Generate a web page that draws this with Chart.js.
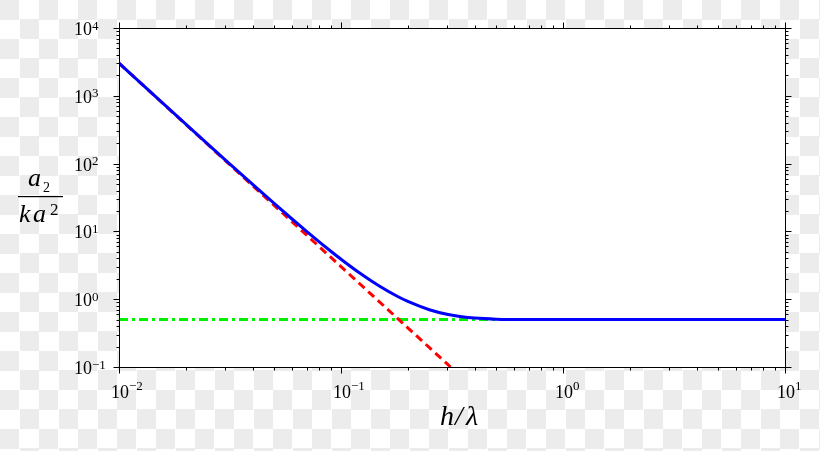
<!DOCTYPE html>
<html><head><meta charset="utf-8">
<script src="https://cdn.jsdelivr.net/npm/chart.js@4.4.1/dist/chart.umd.min.js"></script>
<style>
html,body{margin:0;padding:0;}
body{width:820px;height:451px;overflow:hidden;background-color:#fff;
background-image:conic-gradient(#fff 0 25%, #ececec 0 50%, #fff 0 75%, #ececec 0);
background-size:39px 39px;background-position:0 0;}
canvas{display:block;}
</style></head><body>
<canvas id="c" width="820" height="451"></canvas>
<script>
// Blue curve: a2/(k a^2) versus h/lambda
const hOverLambda = [0.01, 0.015, 0.02, 0.03, 0.04, 0.05, 0.06, 0.07, 0.08, 0.09, 0.1, 0.12, 0.15, 0.18, 0.2, 0.25, 0.3, 0.35, 0.4, 0.5, 0.6, 0.8, 1, 2, 5, 10];
const a2Ratio     = [3032, 901, 382, 114.7, 49.3, 25.8, 15.37, 10.0, 6.96, 5.10, 3.89, 2.50, 1.539, 1.096, 0.927, 0.700, 0.600, 0.551, 0.527, 0.5075, 0.5021, 0.5002, 0.5, 0.5, 0.5, 0.5];
// Red dashed: shallow-water asymptote
const shallowX = [0.01, 0.02, 0.05, 0.1, 0.2, 0.3, 0.3115];
const shallowY = [3024, 378, 24.19, 3.024, 0.378, 0.112, 0.1];
// Green dash-dot: deep-water limit
const deepX = [0.01, 10];
const deepY = [0.5, 0.5];
// Axis ticks
const xMajorTicks = [0.01, 0.1, 1, 10];
const xTickExponents = ['\u22122', '\u22121', '0', '1'];
const yMajorTicks = [0.1, 1, 10, 100, 1000, 10000];
const yTickExponents = ['\u22121', '0', '1', '2', '3', '4'];

const pts = (xs, ys) => xs.map((x, i) => ({x: x, y: ys[i]}));

const SERIF = '"Liberation Serif", "DejaVu Serif", serif';

const decor = {
  id: 'decor',
  beforeDatasetsDraw(chart) {
    const {ctx, chartArea: a} = chart;
    ctx.save();
    ctx.fillStyle = '#ffffff';
    ctx.fillRect(a.left, a.top, a.right - a.left, a.bottom - a.top);
    ctx.restore();
  },
  afterDraw(chart) {
    const {ctx, chartArea: a} = chart;
    const xs = chart.scales.x, ys = chart.scales.y;
    ctx.save();
    ctx.strokeStyle = '#000';
    ctx.lineWidth = 1;
    ctx.strokeRect(Math.round(a.left) + 0.5, Math.round(a.top) + 0.5, Math.round(a.right - a.left), Math.round(a.bottom - a.top));
    const major = 6, minor = 3;
    const line = (x1, y1, x2, y2) => { ctx.beginPath(); ctx.moveTo(x1, y1); ctx.lineTo(x2, y2); ctx.stroke(); };
    const xt = [], yt = [];
    xMajorTicks.forEach((v, i) => {
      xt.push([v, major]);
      if (i < xMajorTicks.length - 1) for (let k = 2; k <= 9; k++) xt.push([v * k, minor]);
    });
    yMajorTicks.forEach((v, i) => {
      yt.push([v, major]);
      if (i < yMajorTicks.length - 1) for (let k = 2; k <= 9; k++) yt.push([v * k, minor]);
    });
    const T = Math.round(a.top) + 0.5, B = Math.round(a.bottom) + 0.5, L = Math.round(a.left) + 0.5, R = Math.round(a.right) + 0.5;
    xt.forEach(([v, len]) => {
      const px = Math.round(xs.getPixelForValue(v)) + 0.5;
      line(px, B, px, B + len);
      line(px, T, px, T - len);
    });
    yt.forEach(([v, len]) => {
      const py = Math.round(ys.getPixelForValue(v)) + 0.5;
      line(L, py, L - len, py);
      line(R, py, R + len, py);
    });
    ctx.fillStyle = '#000';
    ctx.textAlign = 'left';
    ctx.textBaseline = 'alphabetic';
    xMajorTicks.forEach((v, i) => {
      const px = xs.getPixelForValue(v);
      const x0 = px - 8;
      ctx.font = '18px ' + SERIF;
      ctx.fillText('10', x0, 398);
      const w = ctx.measureText('10').width;
      ctx.font = '13px ' + SERIF;
      ctx.fillText(xTickExponents[i], x0 + w, 390);
    });
    yMajorTicks.forEach((v, i) => {
      const py = ys.getPixelForValue(v);
      const x0 = 74;
      ctx.font = '18px ' + SERIF;
      ctx.fillText('10', x0, py + 7);
      const w = ctx.measureText('10').width;
      ctx.font = '13px ' + SERIF;
      ctx.fillText(yTickExponents[i], x0 + w, py + 1.5);
    });
    // x axis title h/lambda
    ctx.font = 'italic 28px ' + SERIF;
    ctx.textAlign = 'left';
    ctx.fillText('h', 440, 425);
    ctx.fillText('/', 455, 425);
    ctx.fillText('\u03BB', 466, 425);
    // y axis title (fraction a_2 / (k a^2))
    ctx.font = 'italic 26px ' + SERIF;
    ctx.fillText('a', 28, 186);
    ctx.font = '14px ' + SERIF;
    ctx.fillText('2', 43, 192);
    ctx.fillRect(18, 196, 45, 1.2);
    ctx.font = 'italic 26px ' + SERIF;
    ctx.fillText('k', 19, 222);
    ctx.fillText('a', 33, 222);
    ctx.font = '17px ' + SERIF;
    ctx.fillText('2', 50, 215);
    ctx.restore();
  }
};

function build() {
  new Chart(document.getElementById('c'), {
    type: 'line',
    data: {
      datasets: [
        {label: 'a2/(k a^2)', data: pts(hOverLambda, a2Ratio), borderColor: '#0000ff', borderWidth: 3,
         pointRadius: 0, cubicInterpolationMode: 'monotone', fill: false},
        {label: 'shallow water', data: pts(shallowX, shallowY), borderColor: '#ff0000', borderWidth: 3,
         borderDash: [8, 5], pointRadius: 0, tension: 0, fill: false},
        {label: 'deep water', data: pts(deepX, deepY), borderColor: '#00ee00', borderWidth: 3,
         borderDash: [9, 4, 3, 4], pointRadius: 0, tension: 0, fill: false}
      ]
    },
    options: {
      responsive: false,
      animation: false,
      layout: {padding: {left: 119, top: 28, right: 35, bottom: 84}},
      plugins: {legend: {display: false}, tooltip: {enabled: false}},
      scales: {
        x: {type: 'logarithmic', min: 0.01, max: 10, display: false},
        y: {type: 'logarithmic', min: 0.1, max: 10000, display: false}
      }
    },
    plugins: [decor]
  });
}
Promise.all([
  document.fonts.load('18px "Liberation Serif"'),
  document.fonts.load('italic 26px "Liberation Serif"')
]).then(build, build);
</script>
</body></html>
